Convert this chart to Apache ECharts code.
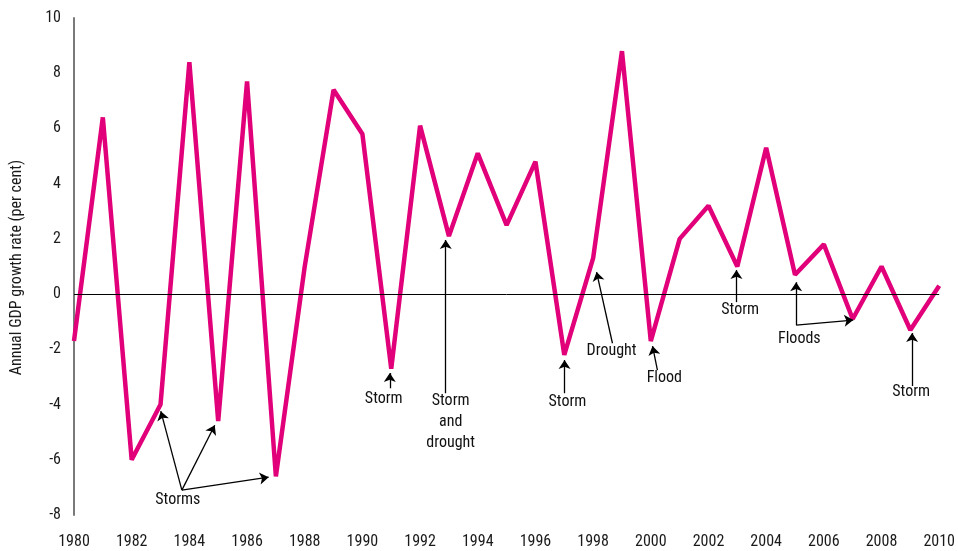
<!DOCTYPE html>
<html>
<head>
<meta charset="utf-8">
<script src="https://cdn.jsdelivr.net/npm/echarts@6/dist/echarts.min.js"></script>
<style>
  html, body { margin: 0; padding: 0; background: #fff; }
  #chart { width: 958px; height: 551px; }
</style>
</head>
<body>
<div id="chart"></div>
<script>
// Annual GDP growth rate, 1980–2010
const years = [1980, 1981, 1982, 1983, 1984, 1985, 1986, 1987, 1988, 1989, 1990,
  1991, 1992, 1993, 1994, 1995, 1996, 1997, 1998, 1999, 2000,
  2001, 2002, 2003, 2004, 2005, 2006, 2007, 2008, 2009, 2010];
const growth = [-1.7, 6.4, -6.0, -4.0, 8.4, -4.6, 7.7, -6.6, 1.0, 7.4, 5.8,
  -2.7, 6.1, 2.1, 5.1, 2.5, 4.8, -2.2, 1.3, 8.8, -1.7,
  2.0, 3.2, 1.0, 5.3, 0.7, 1.8, -0.9, 1.0, -1.3, 0.3];

const yTicks = { min: -8, max: 10, step: 2 };
const xTicks = { min: 1980, max: 2010, step: 2 };

// Event labels, placed in data coordinates [year, growth]
const eventLabels = [
  { text: 'Storms', at: [1983.6, -7.46] },
  { text: 'Storm', at: [1990.74, -3.8] },
  { text: 'Storm\nand\ndrought', at: [1993.06, -4.64] },
  { text: 'Storm', at: [1997.11, -3.91] },
  { text: 'Drought', at: [1998.64, -2.07] },
  { text: 'Flood', at: [2000.47, -3.04] },
  { text: 'Storm', at: [2003.1, -0.58] },
  { text: 'Floods', at: [2005.15, -1.63] },
  { text: 'Storm', at: [2009.03, -3.55] }
];

// Arrows from a label towards the year it refers to: [from, to]
const eventArrows = [
  [[1983.74, -7.1], [1983.01, -4.24]],
  [[1983.74, -7.1], [1984.88, -4.75]],
  [[1983.74, -7.1], [1986.75, -6.63]],
  [[1990.95, -3.41], [1990.95, -2.86]],
  [[1992.89, -3.59], [1992.89, 1.96]],
  [[1997.01, -3.59], [1997.01, -2.39]],
  [[1998.67, -1.78], [1998.12, 0.8]],
  [[2000.23, -2.75], [2000.06, -1.88]],
  [[2002.97, -0.29], [2002.97, 0.87]],
  [[2005.04, -1.12], [2005.04, 0.43]],
  [[2005.04, -1.12], [2007.02, -0.94]],
  [[2009.06, -3.33], [2009.06, -1.41]]
];

const FONT = '"Roboto Condensed", "DejaVu Sans Condensed", sans-serif';
const TEXT_COLOR = '#1a1a1a';

const chart = echarts.init(document.getElementById('chart'), null, { renderer: 'canvas' });

chart.setOption({
  animation: false,
  backgroundColor: '#ffffff',
  grid: { left: 74, right: 18, top: 18, bottom: 36 },
  xAxis: {
    type: 'value',
    min: xTicks.min,
    max: xTicks.max,
    interval: xTicks.step,
    axisLine: { show: false },
    axisTick: { show: false },
    splitLine: { show: false },
    axisLabel: {
      margin: 19,
      color: TEXT_COLOR,
      fontSize: 16,
      fontFamily: FONT,
      formatter: v => String(v)
    }
  },
  yAxis: {
    type: 'value',
    min: yTicks.min,
    max: yTicks.max,
    interval: yTicks.step,
    axisLine: { show: true, onZero: false, lineStyle: { color: '#7a7a7a', width: 2 } },
    axisTick: { show: false },
    splitLine: { show: false },
    axisLabel: {
      margin: 13,
      color: TEXT_COLOR,
      fontSize: 16,
      fontFamily: FONT
    }
  },
  graphic: [{
    type: 'text',
    left: 9,
    top: 160,
    rotation: Math.PI / 2,
    style: {
      text: 'Annual GDP growth rate (per cent)',
      fill: TEXT_COLOR,
      font: '16px ' + FONT
    }
  }],
  series: [
    {
      type: 'line',
      data: years.map((y, i) => [y, growth[i]]),
      symbol: 'none',
      lineStyle: { color: '#E2007A', width: 4.5, cap: 'butt', join: 'bevel' },
      z: 3
    },
    {
      // zero line
      type: 'line',
      data: [],
      silent: true,
      z: 2,
      markLine: {
        silent: true,
        animation: false,
        symbol: ['none', 'none'],
        label: { show: false },
        lineStyle: { color: '#000', width: 1, type: 'solid' },
        data: [[{ coord: [xTicks.min, 0] }, { coord: [xTicks.max, 0] }]]
      }
    },
    {
      // event arrows and their labels
      type: 'line',
      data: [],
      silent: true,
      z: 4,
      markLine: {
        silent: true,
        animation: false,
        symbol: ['none', 'arrow'],
        symbolSize: 9,
        label: { show: false },
        lineStyle: { color: '#000', width: 1.3, type: 'solid' },
        data: eventArrows.map(a => [{ coord: a[0] }, { coord: a[1] }])
      },
      markPoint: {
        silent: true,
        animation: false,
        symbol: 'circle',
        symbolSize: 0,
        itemStyle: { color: 'transparent' },
        label: {
          show: true,
          position: 'inside',
          color: '#111',
          fontSize: 16,
          lineHeight: 21,
          fontFamily: FONT,
          formatter: p => p.name
        },
        data: eventLabels.map(e => ({ name: e.text, coord: e.at }))
      }
    }
  ]
});
</script>
</body>
</html>
